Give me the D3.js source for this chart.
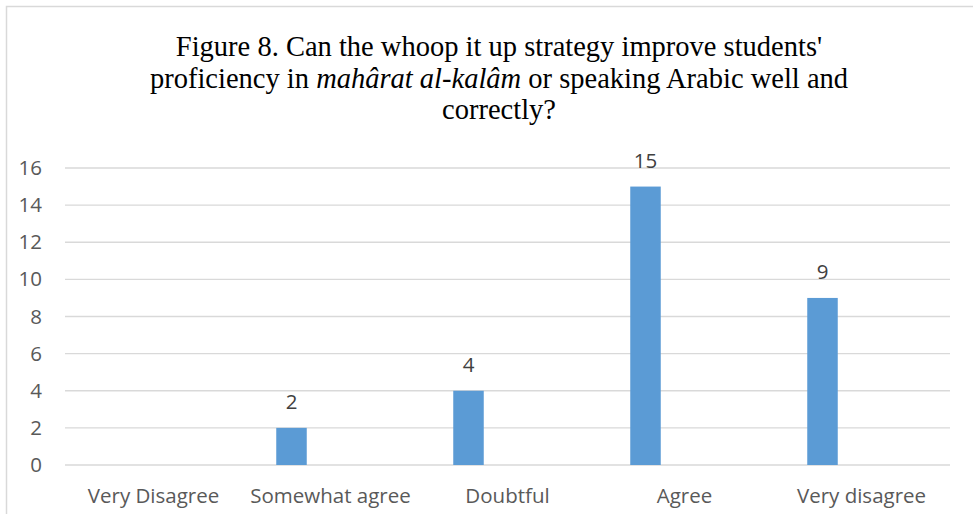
<!DOCTYPE html>
<html>
<head>
<meta charset="utf-8">
<script src="https://cdn.jsdelivr.net/npm/d3@7"></script>
<style>
  html, body { margin: 0; padding: 0; background: #fff; }
  svg { display: block; }
</style>
</head>
<body>
<div id="chart"></div>
<script>
// Survey responses for Figure 8
const categories = ["Very Disagree", "Somewhat agree", "Doubtful", "Agree", "Very disagree"];
const responses = [0, 2, 4, 15, 9];
const yTicks = [0, 2, 4, 6, 8, 10, 12, 14, 16];
const titleLines = [
  [{ t: "Figure 8. Can the whoop it up strategy improve students'" }],
  [{ t: "proficiency in " }, { t: "mahârat al-kalâm", i: true }, { t: " or speaking Arabic well and" }],
  [{ t: "correctly?" }]
];

const W = 973, H = 514;
const plot = { left: 65, right: 950, top: 168, bottom: 465 };
const sans = "'Open Sans', 'Noto Sans', sans-serif";
const labelSize = 20.5;

const svg = d3.select("#chart").append("svg")
  .attr("width", W).attr("height", H);

// chart area frame (runs off the right and bottom edges)
svg.append("rect")
  .attr("x", 6.5).attr("y", 6.5)
  .attr("width", W + 20).attr("height", H + 20)
  .attr("fill", "#fff").attr("stroke", "#d9d9d9").attr("stroke-width", 1.5);

// title
const title = svg.append("text")
  .attr("text-anchor", "middle")
  .attr("font-family", "'Liberation Serif', 'DejaVu Serif', serif")
  .attr("font-size", 28.5)
  .attr("fill", "#000");
titleLines.forEach((line, li) => {
  const tl = title.append("tspan").attr("x", 499).attr("y", 56 + li * 31.5);
  line.forEach(seg => {
    tl.append("tspan").text(seg.t).attr("font-style", seg.i ? "italic" : null);
  });
});

const x = d3.scaleBand().domain(categories).range([plot.left, plot.right]).padding(0);
const y = d3.scaleLinear().domain([0, 16]).range([plot.bottom, plot.top]);

// horizontal gridlines
svg.append("g").selectAll("line").data(yTicks).join("line")
  .attr("x1", plot.left).attr("x2", plot.right)
  .attr("y1", d => y(d)).attr("y2", d => y(d))
  .attr("stroke", "#d9d9d9").attr("stroke-width", 1.3);

// y axis labels
const yAxis = svg.append("g")
  .attr("transform", `translate(${plot.left - 8},0)`)
  .call(d3.axisLeft(y).tickValues(yTicks).tickSize(0).tickPadding(15));
yAxis.select(".domain").remove();
yAxis.selectAll("text")
  .attr("font-family", sans)
  .attr("font-size", labelSize)
  .attr("fill", "#595959");

// x axis labels
const xAxis = svg.append("g")
  .attr("transform", `translate(0,${plot.bottom})`)
  .call(d3.axisBottom(x).tickSize(0).tickPadding(23.5));
xAxis.select(".domain").remove();
xAxis.selectAll("text")
  .attr("font-family", sans)
  .attr("font-size", labelSize)
  .attr("fill", "#595959");

// bars sit left of each category's centre
const barW = 30.5, barShift = -39;
const barX = d => x(d) + x.bandwidth() / 2 + barShift - barW / 2;

const data = categories.map((c, i) => ({ c, v: responses[i] }));

svg.append("g").selectAll("rect").data(data).join("rect")
  .attr("x", d => barX(d.c))
  .attr("y", d => y(d.v))
  .attr("width", barW)
  .attr("height", d => y(0) - y(d.v))
  .attr("fill", "#5b9bd5");

// value labels (zero values carry no label)
svg.append("g").selectAll("text").data(data.filter(d => d.v > 0)).join("text")
  .attr("x", d => barX(d.c) + barW / 2)
  .attr("y", d => y(d.v) - 19)
  .attr("text-anchor", "middle")
  .attr("font-family", sans)
  .attr("font-size", labelSize)
  .attr("fill", "#404040")
  .text(d => d.v);
</script>
</body>
</html>
